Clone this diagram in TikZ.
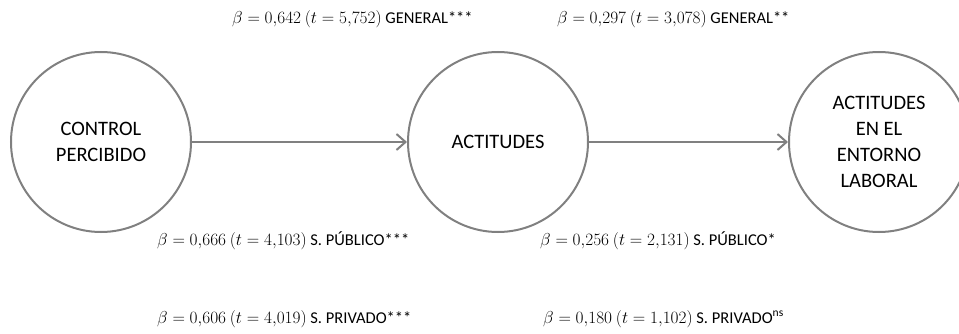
\documentclass[tikz,border=0pt]{standalone}
\usepackage{fontspec}
\setmainfont{Carlito}
\usetikzlibrary{arrows.meta}
\definecolor{cgray}{RGB}{128,128,128}
\begin{document}
\begin{tikzpicture}[x=1pt,y=-1pt,
  circ/.style={circle, draw=cgray, line width=2pt, minimum size=180pt, inner sep=0pt, align=center, font=\fontsize{20.5}{26}\selectfont},
  link/.style={draw=cgray, line width=2pt, -{Straight Barb[length=9pt,width=16pt]}},
  lab/.style={anchor=base west, inner sep=0pt, font=\fontsize{16.5}{18}\selectfont}]
\useasboundingbox (0,0) rectangle (959,334);
\begin{scope}
\clip (0,0) rectangle (959,334);
\node[circ] (cp) at (101,142) {CONTROL\\PERCIBIDO};
\node[circ] (act) at (498,142) {ACTITUDES};
\node[circ] (ael) at (879,142) {ACTITUDES\\EN EL\\ENTORNO\\LABORAL};
\draw[link] (cp) -- (act);
\draw[link] (act) -- (ael);
\end{scope}
\node[lab] (g1) at (232,24) {$\beta = 0{,}642\ (t = 5{,}752)$ GENERAL***};
\node[lab] (g2) at (557,24) {$\beta = 0{,}297\ (t = 3{,}078)$ GENERAL**};
\node[lab] (p1) at (157,245) {$\beta = 0{,}666\ (t = 4{,}103)$ S. PÚBLICO***};
\node[lab] (p2) at (540,245) {$\beta = 0{,}256\ (t = 2{,}131)$ S. PÚBLICO*};
\node[lab] (v1) at (157,323) {$\beta = 0{,}606\ (t = 4{,}019)$ S. PRIVADO***};
\node[lab] (v2) at (543,323) {$\beta = 0{,}180\ (t = 1{,}102)$ S. PRIVADO\textsuperscript{ns}};
\end{tikzpicture}
\end{document}
